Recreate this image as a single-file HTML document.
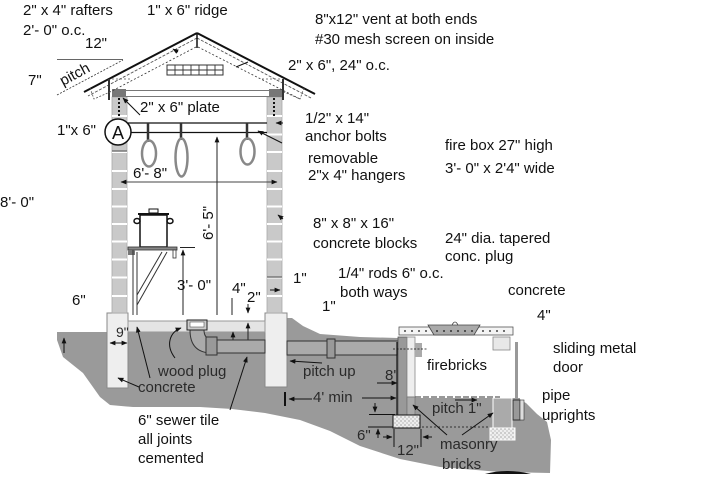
<!DOCTYPE html>
<html><head><meta charset="utf-8"><style>
html,body{margin:0;padding:0;background:#fff;}
svg{display:block;}
text{font-family:"Liberation Sans",sans-serif;font-size:15px;fill:#111;}
.g{fill:#2a2a2a;}
</style></head><body>
<svg width="722" height="503" viewBox="0 0 722 503" xmlns="http://www.w3.org/2000/svg">
<defs>
<marker id="ah" viewBox="0 0 10 10" refX="9" refY="5" markerWidth="6" markerHeight="6" orient="auto-start-reverse"><path d="M0,1 L10,5 L0,9 z" fill="#111"/></marker>
<pattern id="stip" width="4" height="4" patternUnits="userSpaceOnUse"><rect width="4" height="4" fill="#eee"/><circle cx="1" cy="1" r="0.6" fill="#777"/><circle cx="3" cy="3" r="0.6" fill="#999"/></pattern>
</defs>

<!-- ground -->
<polygon points="57,332 265,332 265,318 292,318 303,326 320,334 360,337 398,338 520,338 520,400 526,403 537,414 547,422 551,440 550,473 500,472 440,467 400,459 360,446 330,431 300,420 265,413 232,409 200,407 133,407 110,405 100,397 83,373 63,357 57,340" fill="#9a9a9a"/>
<path d="M485,474 Q506,468 531,474 Z" fill="#111"/>

<!-- footings -->
<rect x="107" y="313" width="21" height="75" fill="#eee" stroke="#888"/>
<rect x="265" y="313" width="22" height="74" fill="#eee" stroke="#888"/>
<!-- slab -->
<rect x="128" y="321" width="137" height="11" fill="#e4e4e4" stroke="#999"/>

<!-- walls -->
<rect x="112" y="97" width="15" height="216" fill="#c9c9c9" stroke="#aaa" stroke-width="0.8"/>
<rect x="267" y="97" width="15" height="216" fill="#c9c9c9" stroke="#aaa" stroke-width="0.8"/>
<g stroke="#fff" stroke-width="2">
<line x1="112" y1="116" x2="127" y2="116"/><line x1="112" y1="134.5" x2="127" y2="134.5"/><line x1="112" y1="152" x2="127" y2="152"/><line x1="112" y1="171" x2="127" y2="171"/><line x1="112" y1="189" x2="127" y2="189"/><line x1="112" y1="206.5" x2="127" y2="206.5"/><line x1="112" y1="224" x2="127" y2="224"/><line x1="112" y1="241.5" x2="127" y2="241.5"/><line x1="112" y1="259.5" x2="127" y2="259.5"/><line x1="112" y1="277.5" x2="127" y2="277.5"/><line x1="112" y1="296" x2="127" y2="296"/>
<line x1="267" y1="116" x2="282" y2="116"/><line x1="267" y1="134.5" x2="282" y2="134.5"/><line x1="267" y1="152" x2="282" y2="152"/><line x1="267" y1="171" x2="282" y2="171"/><line x1="267" y1="189" x2="282" y2="189"/><line x1="267" y1="206.5" x2="282" y2="206.5"/><line x1="267" y1="224" x2="282" y2="224"/><line x1="267" y1="241.5" x2="282" y2="241.5"/><line x1="267" y1="259.5" x2="282" y2="259.5"/><line x1="267" y1="277.5" x2="282" y2="277.5"/><line x1="267" y1="296" x2="282" y2="296"/>
</g>
<line x1="112" y1="151" x2="127" y2="151" stroke="#777" stroke-width="1.5"/>
<line x1="267" y1="277" x2="282" y2="277" stroke="#777" stroke-width="1.5"/>
<!-- plates -->
<rect x="112" y="89" width="14" height="8" fill="#777"/>
<rect x="269" y="89" width="14" height="8" fill="#777"/>
<line x1="119" y1="98" x2="119" y2="118" stroke="#111" stroke-width="2" stroke-dasharray="2,2"/>
<line x1="274" y1="98" x2="274" y2="116" stroke="#111" stroke-width="2" stroke-dasharray="2,2"/>
<!-- ceiling joist -->
<line x1="112" y1="90.5" x2="283" y2="90.5" stroke="#777"/>
<line x1="126" y1="96.5" x2="269" y2="96.5" stroke="#777"/>

<!-- roof -->
<line x1="197" y1="33" x2="84" y2="92" stroke="#111" stroke-width="2"/>
<line x1="197" y1="38" x2="88" y2="96" stroke="#555" stroke-width="0.9" stroke-dasharray="3,1.5"/>
<line x1="197" y1="33" x2="315" y2="94" stroke="#111" stroke-width="2"/>
<line x1="197" y1="38" x2="311" y2="98" stroke="#555" stroke-width="0.9" stroke-dasharray="3,1.5"/>
<line x1="197" y1="33" x2="197" y2="48" stroke="#111" stroke-width="1.5"/>
<line x1="196" y1="47" x2="110" y2="92" stroke="#333" stroke-width="0.8" stroke-dasharray="2,2"/>
<line x1="198" y1="47" x2="300" y2="99" stroke="#333" stroke-width="0.8" stroke-dasharray="2,2"/>
<line x1="109" y1="79" x2="109" y2="100" stroke="#333" stroke-width="2"/>
<line x1="283" y1="79" x2="283" y2="100" stroke="#333" stroke-width="2"/>
<line x1="112" y1="79" x2="132" y2="79" stroke="#555" stroke-dasharray="2,2" stroke-width="0.8"/>
<line x1="262" y1="79" x2="282" y2="79" stroke="#555" stroke-dasharray="2,2" stroke-width="0.8"/>
<polyline points="90,88 94,99 110,92" fill="none" stroke="#555" stroke-dasharray="2,1.5" stroke-width="0.8"/>
<polyline points="304,88 300,99 284,92" fill="none" stroke="#555" stroke-dasharray="2,1.5" stroke-width="0.8"/>
<line x1="236" y1="67" x2="248" y2="62" stroke="#111"/>
<line x1="178" y1="52" x2="173" y2="49" stroke="#111" marker-end="url(#ah)"/>
<!-- vent -->
<rect x="167" y="65" width="56" height="10" fill="#fff" stroke="#333"/>
<g stroke="#333" stroke-width="0.9"><line x1="167" y1="70" x2="223" y2="70"/><line x1="175" y1="65" x2="175" y2="75"/><line x1="183" y1="65" x2="183" y2="75"/><line x1="191" y1="65" x2="191" y2="75"/><line x1="199" y1="65" x2="199" y2="75"/><line x1="207" y1="65" x2="207" y2="75"/><line x1="215" y1="65" x2="215" y2="75"/></g>

<!-- pitch triangle -->
<line x1="57" y1="59.5" x2="123" y2="59.5" stroke="#333" stroke-width="0.8"/>
<line x1="57" y1="95" x2="123" y2="60" stroke="#333" stroke-width="0.8" stroke-dasharray="2,1.5"/>
<text x="63" y="86" transform="rotate(-28 63 86)">pitch</text>

<!-- hanger bar -->
<line x1="128" y1="123" x2="267" y2="123" stroke="#111" stroke-width="1.3"/>
<line x1="130" y1="132.5" x2="267" y2="132.5" stroke="#111" stroke-width="1.3"/>
<circle cx="118" cy="132" r="13" fill="#fff" stroke="#111" stroke-width="1.5"/>
<text x="118" y="139" text-anchor="middle" style="font-size:18px">A</text>
<g stroke="#333" stroke-width="2.5"><line x1="148" y1="123" x2="148" y2="142"/><line x1="181" y1="123" x2="181" y2="140"/><line x1="247" y1="123" x2="247" y2="140"/></g>
<g fill="none" stroke="#888" stroke-width="2.5"><ellipse cx="149" cy="153.5" rx="7" ry="13"/><ellipse cx="181.5" cy="157.5" rx="6" ry="19"/><ellipse cx="247.5" cy="151.5" rx="7" ry="13"/></g>

<!-- dims inside -->
<line x1="121" y1="182" x2="277" y2="182" stroke="#444" marker-start="url(#ah)" marker-end="url(#ah)"/>
<line x1="217" y1="315" x2="217" y2="137" stroke="#222" marker-end="url(#ah)"/>
<line x1="183" y1="315" x2="183" y2="250" stroke="#222" marker-end="url(#ah)"/>
<line x1="180" y1="247.5" x2="195" y2="247.5" stroke="#222"/>
<line x1="232" y1="298" x2="232" y2="315" stroke="#222"/>
<line x1="248" y1="304" x2="248" y2="313" stroke="#222" marker-end="url(#ah)"/>
<line x1="248" y1="341" x2="248" y2="323" stroke="#222" marker-end="url(#ah)"/>
<line x1="233" y1="340" x2="233" y2="332" stroke="#222" marker-end="url(#ah)"/>

<!-- pot and shelf -->
<rect x="140" y="215" width="27" height="32" fill="#fff" stroke="#111" stroke-width="1.5"/>
<line x1="138" y1="214" x2="169" y2="214" stroke="#111" stroke-width="2"/>
<rect x="149" y="209" width="9" height="4" fill="#fff" stroke="#111"/>
<ellipse cx="137" cy="221" rx="3" ry="2.5" fill="none" stroke="#111" stroke-width="1.5"/>
<ellipse cx="170" cy="221" rx="3" ry="2.5" fill="none" stroke="#111" stroke-width="1.5"/>
<rect x="128" y="247" width="49" height="3" fill="#888" stroke="#333" stroke-width="0.8"/>
<rect x="128" y="250" width="7" height="5" fill="#777"/>
<rect x="173" y="250" width="3" height="8" fill="#fff" stroke="#333" stroke-width="0.8"/>
<line x1="133" y1="250" x2="133" y2="315" stroke="#333"/>
<line x1="137" y1="252" x2="137" y2="315" stroke="#333"/>
<line x1="162" y1="252" x2="137" y2="295" stroke="#333"/>
<line x1="167" y1="252" x2="137" y2="305" stroke="#333"/>

<!-- wall arrows -->
<line x1="283" y1="123" x2="276" y2="123" stroke="#111" marker-end="url(#ah)"/>
<line x1="283" y1="219" x2="278" y2="215" stroke="#111" marker-end="url(#ah)"/>
<line x1="270" y1="290" x2="280" y2="290" stroke="#111" marker-end="url(#ah)"/>
<line x1="140" y1="115" x2="123" y2="98" stroke="#111" marker-end="url(#ah)"/>
<line x1="282" y1="143" x2="258" y2="131" stroke="#111" marker-end="url(#ah)"/>

<!-- drain + pipe -->
<path d="M190,330 L204,330 Q204,339 212,339 L212,353 Q190,353 190,330 Z" fill="#aaa" stroke="#333"/>
<rect x="187" y="320" width="20" height="10" fill="#ccc" stroke="#222"/>
<rect x="190" y="322" width="14" height="5" fill="#fff" stroke="#555" stroke-width="0.6"/>
<rect x="217" y="340" width="48" height="13" fill="#aaa" stroke="#333"/>
<rect x="206" y="337" width="11" height="18" fill="#999" stroke="#333"/>
<rect x="287" y="341" width="111" height="14" fill="#aaa" stroke="#333"/>
<rect x="327" y="339" width="8" height="19" fill="#999" stroke="#333"/>

<!-- ground leaders -->
<line x1="64" y1="353" x2="64" y2="338" stroke="#111" marker-end="url(#ah)"/>
<line x1="110" y1="343" x2="127" y2="343" stroke="#111" marker-start="url(#ah)" marker-end="url(#ah)"/>
<line x1="150" y1="378" x2="137" y2="327" stroke="#111" marker-end="url(#ah)"/>
<line x1="139" y1="387" x2="118" y2="378" stroke="#111" marker-end="url(#ah)"/>
<path d="M175,358 C165,345 170,332 181,328" fill="none" stroke="#111" marker-end="url(#ah)"/>
<line x1="230" y1="410" x2="247" y2="357" stroke="#111" marker-end="url(#ah)"/>
<line x1="322" y1="363" x2="290" y2="361" stroke="#111" marker-end="url(#ah)"/>
<line x1="285" y1="392" x2="285" y2="406" stroke="#111" stroke-width="2"/>
<line x1="312" y1="399" x2="289" y2="399" stroke="#111" marker-end="url(#ah)"/>
<line x1="362" y1="398" x2="396" y2="398" stroke="#111" marker-end="url(#ah)"/>
<line x1="377" y1="383" x2="397" y2="383" stroke="#111" marker-end="url(#ah)"/>
<line x1="422" y1="382" x2="416" y2="382" stroke="#111" marker-end="url(#ah)"/>
<line x1="375" y1="403" x2="375" y2="412" stroke="#111" marker-end="url(#ah)"/>
<line x1="369" y1="414.5" x2="395" y2="414.5" stroke="#111"/>
<line x1="368" y1="427" x2="395" y2="427" stroke="#111"/>
<line x1="378" y1="438" x2="378" y2="429" stroke="#111" marker-end="url(#ah)"/>
<line x1="383" y1="437" x2="392" y2="437" stroke="#111" marker-end="url(#ah)"/>
<line x1="394" y1="429" x2="394" y2="447" stroke="#111"/>
<line x1="421" y1="429" x2="421" y2="447" stroke="#111"/>
<line x1="432" y1="437" x2="423" y2="437" stroke="#111" marker-end="url(#ah)"/>

<!-- firebox -->
<line x1="397" y1="342" x2="397" y2="415" stroke="#111" stroke-width="1.2"/>
<rect x="415" y="335" width="105" height="63" fill="#fff"/>
<rect x="398" y="337" width="9" height="78" fill="#999" stroke="#555" stroke-width="0.8"/>
<rect x="407" y="337" width="8" height="60" fill="#eee" stroke="#888" stroke-width="0.8"/>
<rect x="407" y="397" width="8" height="18" fill="#aaa" stroke="#777" stroke-width="0.8"/>
<rect x="393" y="415" width="27" height="13" fill="url(#stip)" stroke="#111"/>
<rect x="399" y="327" width="114" height="8" fill="#f4f4f4" stroke="#555" stroke-width="0.8"/>
<polygon points="428,325 480,325 474,335 434,335" fill="#aaa" stroke="#444" stroke-width="0.8"/>
<path d="M452,325 Q455,319 458,325" fill="none" stroke="#444" stroke-width="0.8"/>
<g fill="#111"><circle cx="405" cy="331" r="0.9"/><circle cx="412" cy="331" r="0.9"/><circle cx="419" cy="331" r="0.9"/><circle cx="426" cy="331" r="0.9"/><circle cx="437" cy="331" r="0.9"/><circle cx="444" cy="331" r="0.9"/><circle cx="451" cy="331" r="0.9"/><circle cx="458" cy="331" r="0.9"/><circle cx="465" cy="331" r="0.9"/><circle cx="472" cy="331" r="0.9"/><circle cx="483" cy="331" r="0.9"/><circle cx="490" cy="331" r="0.9"/><circle cx="497" cy="331" r="0.9"/><circle cx="504" cy="331" r="0.9"/></g>
<rect x="415" y="343" width="7" height="14" fill="#aaa"/>
<line x1="393" y1="349" x2="428" y2="349" stroke="#111" stroke-width="0.8" stroke-dasharray="2,1.5"/>
<rect x="493" y="337" width="17" height="13" fill="#e8e8e8" stroke="#888" stroke-width="0.8"/>
<rect x="515" y="342" width="3" height="75" fill="#999"/>
<rect x="513" y="400" width="7" height="20" fill="none" stroke="#333"/>
<rect x="520" y="400" width="4" height="20" fill="#ddd" stroke="#333" stroke-width="0.6"/>
<line x1="415" y1="397" x2="500" y2="397" stroke="#333" stroke-dasharray="6,2"/>
<line x1="455" y1="400" x2="477" y2="400" stroke="#111" marker-end="url(#ah)"/>
<rect x="493" y="398" width="19" height="30" fill="#aaa" stroke="#fff"/>
<rect x="490" y="428" width="25" height="12" fill="url(#stip)" stroke="#fff"/>
<line x1="422" y1="427" x2="490" y2="427" stroke="#333" stroke-dasharray="2,2"/>
<line x1="447" y1="435" x2="413" y2="405" stroke="#111" marker-end="url(#ah)"/>
<line x1="462" y1="435" x2="493" y2="413" stroke="#111" marker-end="url(#ah)"/>

<!-- labels -->
<text x="23" y="15">2" x 4" rafters</text>
<text x="23" y="35">2'- 0" o.c.</text>
<text x="147" y="15">1" x 6" ridge</text>
<text x="85" y="48">12"</text>
<text x="28" y="85">7"</text>
<text x="57" y="135">1"x 6"</text>
<text x="140" y="112">2" x 6" plate</text>
<text x="315" y="24">8"x12" vent at both ends</text>
<text x="315" y="44">#30 mesh screen on inside</text>
<text x="288" y="70">2" x 6", 24" o.c.</text>
<text x="305" y="123">1/2" x 14"</text>
<text x="305" y="141">anchor bolts</text>
<text x="308" y="163">removable</text>
<text x="308" y="180">2"x 4" hangers</text>
<text x="445" y="150">fire box 27" high</text>
<text x="445" y="173">3'- 0" x 2'4" wide</text>
<text x="313" y="228">8" x 8" x 16"</text>
<text x="313" y="248">concrete blocks</text>
<text x="445" y="243">24" dia. tapered</text>
<text x="445" y="261">conc. plug</text>
<text x="338" y="278">1/4" rods 6" o.c.</text>
<text x="340" y="297">both ways</text>
<text x="293" y="283">1"</text>
<text x="322" y="311">1"</text>
<text x="508" y="295">concrete</text>
<text x="537" y="320">4"</text>
<text x="553" y="353">sliding metal</text>
<text x="553" y="372">door</text>
<text x="542" y="400">pipe</text>
<text x="542" y="420">uprights</text>
<text x="427" y="370">firebricks</text>
<text class="g" x="432" y="413">pitch 1"</text>
<text class="g" x="440" y="449">masonry</text>
<text class="g" x="442" y="469">bricks</text>
<text class="g" x="385" y="380">8'</text>
<text class="g" x="303" y="376">pitch up</text>
<text class="g" x="313" y="402">4' min</text>
<text class="g" x="357" y="440">6"</text>
<text class="g" x="397" y="455">12"</text>
<text class="g" x="158" y="376">wood plug</text>
<text class="g" x="138" y="392">concrete</text>
<text class="g" x="116" y="337" style="font-size:14px">9"</text>
<text x="138" y="425">6" sewer tile</text>
<text x="138" y="444">all joints</text>
<text x="138" y="463">cemented</text>
<text x="0" y="207">8'- 0"</text>
<text x="72" y="305">6"</text>
<text x="133" y="178">6'- 8"</text>
<text x="213" y="240" transform="rotate(-90 213 240)">6'- 5"</text>
<text x="177" y="290">3'- 0"</text>
<text x="232" y="293">4"</text>
<text x="247" y="302">2"</text>
</svg>
</body></html>
